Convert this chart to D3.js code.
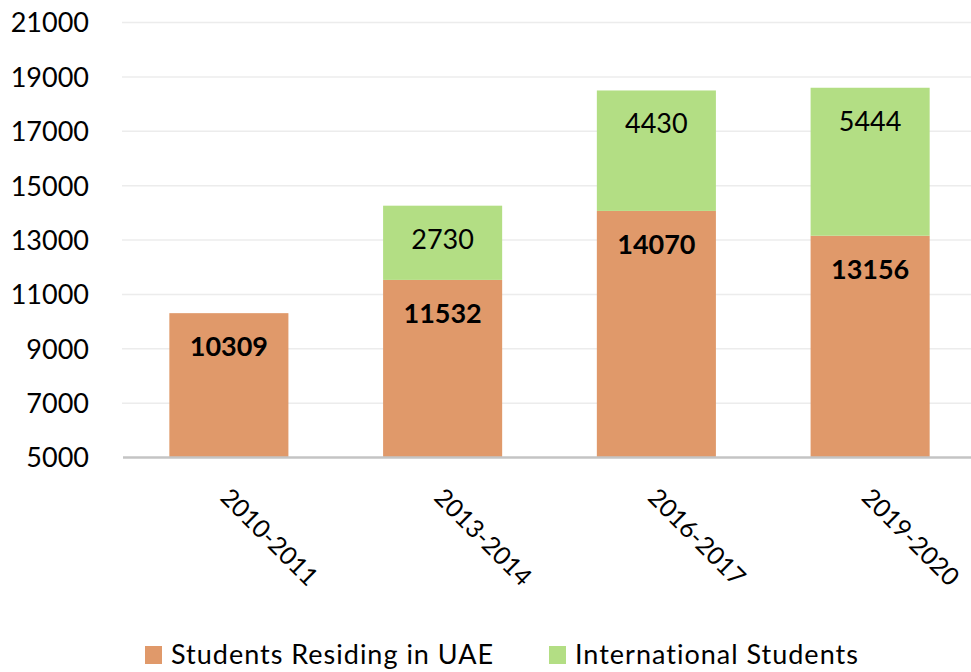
<!DOCTYPE html>
<html>
<head>
<meta charset="utf-8">
<script src="https://cdn.jsdelivr.net/npm/d3@7/dist/d3.min.js"></script>
<style>
  html, body { margin: 0; padding: 0; background: #fff; }
  svg { display: block; font-family: Lato, "Liberation Sans", sans-serif; }
</style>
</head>
<body>
<svg id="chart" width="971" height="672"></svg>
<script>
const categories = ["2010-2011", "2013-2014", "2016-2017", "2019-2020"];
const residing = [10309, 11532, 14070, 13156];
const international = [null, 2730, 4430, 5444];
const seriesNames = ["Students Residing in UAE", "International Students"];
const seriesColors = ["#e0996a", "#b3de84"];
const yTicks = [5000, 7000, 9000, 11000, 13000, 15000, 17000, 19000, 21000];

const svg = d3.select("#chart");
const fontSize = 27;

const x = d3.scaleBand().domain(categories).range([122, 977]).paddingInner(0.443).paddingOuter(0.2215);
const y = d3.scaleLinear().domain([5000, 21000]).range([457.5, 22.5]);

// gridlines
svg.append("g").selectAll("line").data(yTicks.slice(1)).join("line")
  .attr("x1", 122).attr("x2", 971)
  .attr("y1", d => y(d)).attr("y2", d => y(d))
  .attr("stroke", "#ececec").attr("stroke-width", 1.5);

// y axis labels
const yAxis = d3.axisLeft(y).tickValues(yTicks).tickSize(0).tickPadding(0).tickFormat(d3.format("d"));
const yg = svg.append("g").attr("transform", "translate(89,0)").call(yAxis);
yg.select(".domain").remove();
yg.selectAll("text").attr("font-size", fontSize).attr("fill", "#000").attr("font-family", "Lato, 'Liberation Sans', sans-serif").attr("dy", "0.35em");

// stacks
const rows = categories.map((c, i) => ({ cat: c, r: residing[i], n: international[i] || 0, nRaw: international[i] }));

const barG = svg.append("g");
barG.selectAll("rect.res").data(rows).join("rect").attr("class", "res")
  .attr("x", d => x(d.cat)).attr("width", x.bandwidth())
  .attr("y", d => y(d.r)).attr("height", d => y(5000) - y(d.r))
  .attr("fill", seriesColors[0]);
barG.selectAll("rect.int").data(rows.filter(d => d.nRaw != null)).join("rect").attr("class", "int")
  .attr("x", d => x(d.cat)).attr("width", x.bandwidth())
  .attr("y", d => y(d.r + d.n)).attr("height", d => y(d.r) - y(d.r + d.n))
  .attr("fill", seriesColors[1]);

// axis line
svg.append("line").attr("x1", 123).attr("x2", 971).attr("y1", y(5000)).attr("y2", y(5000))
  .attr("stroke", "#c4c4c4").attr("stroke-width", 2.5);

// labels
svg.append("g").selectAll("text").data(rows).join("text")
  .attr("x", d => x(d.cat) + x.bandwidth() / 2)
  .attr("y", d => y(d.r) + 43)
  .attr("text-anchor", "middle").attr("font-size", fontSize).attr("font-weight", "bold")
  .text(d => d.r);
svg.append("g").selectAll("text").data(rows.filter(d => d.nRaw != null)).join("text")
  .attr("x", d => x(d.cat) + x.bandwidth() / 2)
  .attr("y", d => y(d.r + d.n) + 43)
  .attr("text-anchor", "middle").attr("font-size", fontSize)
  .text(d => d.n);

// x labels
svg.append("g").selectAll("text").data(categories).join("text")
  .attr("transform", d => `translate(${x(d) + x.bandwidth() / 2 - 10},499) rotate(45)`)
  .attr("text-anchor", "start").attr("font-size", 25)
  .text(d => d);

// legend
const legendItems = [
  { name: seriesNames[0], color: seriesColors[0], sx: 145, tx: 171 },
  { name: seriesNames[1], color: seriesColors[1], sx: 549, tx: 575 }
];
const lg = svg.append("g");
lg.selectAll("rect").data(legendItems).join("rect")
  .attr("x", d => d.sx).attr("y", 646).attr("width", 17).attr("height", 18)
  .attr("fill", d => d.color);
lg.selectAll("text").data(legendItems).join("text")
  .attr("x", d => d.tx).attr("y", 664).attr("font-size", fontSize)
  .attr("letter-spacing", 1)
  .text(d => d.name);
</script>
</body>
</html>
